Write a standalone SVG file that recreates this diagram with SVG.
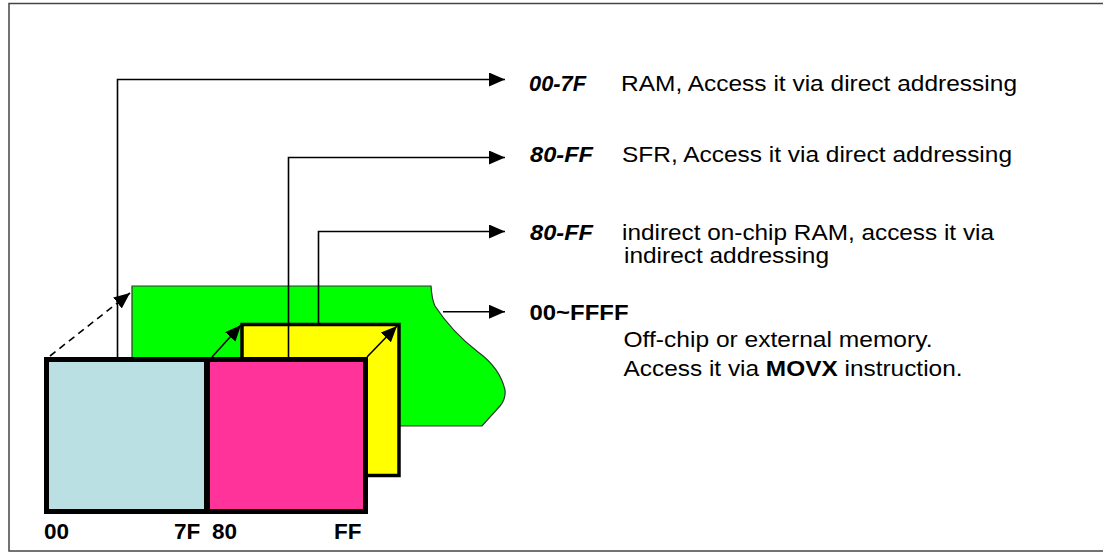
<svg xmlns="http://www.w3.org/2000/svg" width="1103" height="553" viewBox="0 0 1103 553">
<style>
text{font-family:"Liberation Sans",Arial,sans-serif;font-size:22.5px;fill:#000}
.rng{font-weight:bold;font-style:italic}
.b{font-weight:bold}
.ln{fill:none;stroke:#000;stroke-width:1.6}
</style>
<defs>
<marker id="ah" markerUnits="userSpaceOnUse" markerWidth="17" markerHeight="15" refX="16" refY="7" orient="auto" viewBox="0 0 17 15">
<path d="M0,0 L16,7 L0,14 Z" fill="#000"/>
</marker>
</defs>
<rect x="9" y="3.5" width="1100" height="547.5" fill="#fff" stroke="#444" stroke-width="1.5"/>
<g id="external">
<path d="M132,286 H431 Q432,300 435,306 Q452,332 478,352 Q500,368 505,390 Q506,399 500,406 L482,426 H132 Z" fill="#00ff00" stroke="#333" stroke-width="1.2"/>
</g>
<g id="indirect-ram">
<rect x="242" y="324.5" width="157" height="151" fill="#ffff00" stroke="#000" stroke-width="3.5"/>
</g>
<g id="connectors">
<path class="ln" d="M117.5,357 V79.5 H505" marker-end="url(#ah)"/>
<path class="ln" d="M288.5,357 V157.5 H505" marker-end="url(#ah)"/>
<path class="ln" d="M318.5,323 V231.5 H505" marker-end="url(#ah)"/>
<path class="ln" d="M443,311.7 H505" marker-end="url(#ah)"/>
<path class="ln" d="M50,356 L130,293" stroke-dasharray="7,5" marker-end="url(#ah)"/>
<path class="ln" d="M212,357 L241,325" marker-end="url(#ah)"/>
<path class="ln" d="M367,357 L397,326" marker-end="url(#ah)"/>
</g>
<g id="onchip">
<rect x="46.5" y="359.5" width="160.5" height="152" fill="#bbe0e3"/>
<rect x="207" y="359.5" width="158.5" height="152" fill="#ff3399"/>
<rect x="46.5" y="359.5" width="319" height="152" fill="none" stroke="#000" stroke-width="5"/>
<line x1="207" y1="359" x2="207" y2="512" stroke="#000" stroke-width="6"/>
</g>
<g id="addr-labels">
<text class="b" x="44" y="538.5">00</text>
<text class="b" x="174" y="538.5">7F</text>
<text class="b" x="212" y="538.5">80</text>
<text class="b" x="334" y="538.5">FF</text>
</g>
<g id="label-ram">
<text class="rng" x="529" y="90.5" textLength="57" lengthAdjust="spacingAndGlyphs">00-7F</text>
<text x="621" y="90.5" textLength="396" lengthAdjust="spacingAndGlyphs">RAM, Access it via direct addressing</text>
</g>
<g id="label-sfr">
<text class="rng" x="530" y="161.5" textLength="63" lengthAdjust="spacingAndGlyphs">80-FF</text>
<text x="622" y="161.5" textLength="390" lengthAdjust="spacingAndGlyphs">SFR, Access it via direct addressing</text>
</g>
<g id="label-indirect">
<text class="rng" x="530" y="239.5" textLength="63" lengthAdjust="spacingAndGlyphs">80-FF</text>
<text x="622" y="239.5" textLength="372" lengthAdjust="spacingAndGlyphs">indirect on-chip RAM, access it via</text>
<text x="624" y="262.5" textLength="205" lengthAdjust="spacingAndGlyphs">indirect addressing</text>
</g>
<g id="label-external">
<text class="b" x="529.5" y="320" textLength="99" lengthAdjust="spacingAndGlyphs">00~FFFF</text>
<text x="623.5" y="347" textLength="309" lengthAdjust="spacingAndGlyphs">Off-chip or external memory.</text>
<text x="623.5" y="376" textLength="339" lengthAdjust="spacingAndGlyphs">Access it via <tspan class="b">MOVX</tspan> instruction.</text>
</g>
</svg>
